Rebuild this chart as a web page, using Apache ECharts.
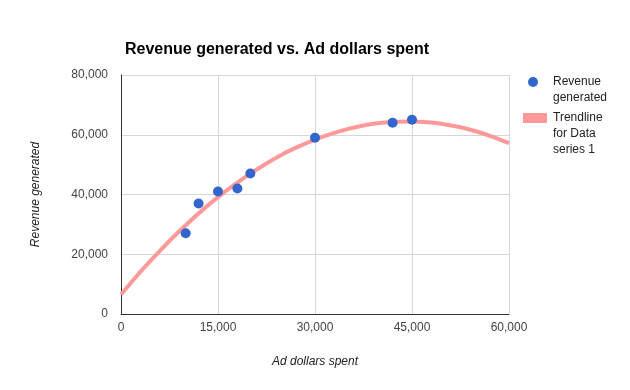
<!DOCTYPE html>
<html>
<head>
<meta charset="utf-8">
<script src="https://cdn.jsdelivr.net/npm/echarts@6/dist/echarts.min.js"></script>
<style>html,body{margin:0;padding:0;background:#fff}#c{width:630px;height:390px}</style>
</head>
<body>
<div id="c"></div>
<script>
// Scatter data: [ad dollars spent, revenue generated]
const adDollars = [10000, 12000, 15000, 18000, 20000, 30000, 42000, 45000];
const revenue = [27000, 37000, 41000, 42000, 47000, 59000, 64000, 65000];
// Trendline values
const trendX = [0, 2500, 5000, 7500, 10000, 12500, 15000, 17500, 20000, 22500, 25000, 27500, 30000,
  32500, 35000, 37500, 40000, 42500, 45000, 47500, 50000, 52500, 55000, 57500, 60000];
const trendY = [6500, 12900, 18800, 24500, 29700, 34600, 39100, 43200, 47000, 50400, 53500, 56100, 58400,
  60300, 61900, 63100, 63900, 64350, 64400, 64150, 63500, 62500, 61100, 59300, 57200];
const xTicks = [0, 15000, 30000, 45000, 60000];
const yTicks = [0, 20000, 40000, 60000, 80000];

const font = 'Liberation Sans, Arial, sans-serif';
const fmt = v => v.toLocaleString('en-US');
const chart = echarts.init(document.getElementById('c'), null, {renderer: 'canvas'});
chart.setOption({
  animation: false,
  backgroundColor: '#fff',
  title: {
    text: 'Revenue generated vs. Ad dollars spent',
    left: 120, top: 37,
    textStyle: {fontFamily: font, fontSize: 16, fontWeight: 'bold', color: '#000'}
  },
  grid: {left: 121, right: 121, top: 75, bottom: 76},
  xAxis: {
    type: 'value', min: xTicks[0], max: xTicks[xTicks.length - 1], interval: 15000,
    name: 'Ad dollars spent', nameLocation: 'middle', nameGap: 42,
    nameTextStyle: {fontFamily: font, fontSize: 12, fontStyle: 'italic', color: '#222'},
    axisLine: {lineStyle: {color: '#333', width: 1}},
    axisTick: {show: false},
    axisLabel: {fontFamily: font, fontSize: 12, color: '#444', margin: 8, formatter: fmt},
    splitLine: {lineStyle: {color: '#d6d6d6', width: 1}}
  },
  yAxis: {
    type: 'value', min: yTicks[0], max: yTicks[yTicks.length - 1], interval: 20000,
    name: 'Revenue generated', nameLocation: 'middle', nameGap: 79, nameRotate: 90,
    nameTextStyle: {fontFamily: font, fontSize: 12, fontStyle: 'italic', color: '#222'},
    axisLine: {show: true, lineStyle: {color: '#333', width: 1}},
    axisTick: {show: false},
    axisLabel: {fontFamily: font, fontSize: 12, color: '#444', margin: 13, formatter: fmt},
    splitLine: {lineStyle: {color: '#d6d6d6', width: 1}}
  },
  series: [
    {
      name: 'Trendline for Data series 1',
      type: 'line', smooth: 0.3, showSymbol: false, z: 2,
      data: trendX.map((x, i) => [x, trendY[i]]),
      lineStyle: {color: '#ff9999', width: 4},
      itemStyle: {color: '#ff9999'}
    },
    {
      name: 'Revenue generated',
      type: 'scatter', symbolSize: 10, z: 3,
      data: adDollars.map((x, i) => [x, revenue[i]]),
      itemStyle: {color: '#3366cc', opacity: 1}
    }
  ],
  graphic: [
    {type: 'circle', shape: {cx: 533, cy: 82, r: 5}, style: {fill: '#3366cc'}},
    {type: 'text', left: 553, top: 74, style: {text: 'Revenue\ngenerated', font: '12px ' + font, fill: '#222', lineHeight: 16}},
    {type: 'rect', shape: {x: 523, y: 113, width: 24, height: 10}, style: {fill: '#ff9999'}},
    {type: 'text', left: 553, top: 110, style: {text: 'Trendline\nfor Data\nseries 1', font: '12px ' + font, fill: '#222', lineHeight: 16}}
  ]
});
</script>
</body>
</html>
